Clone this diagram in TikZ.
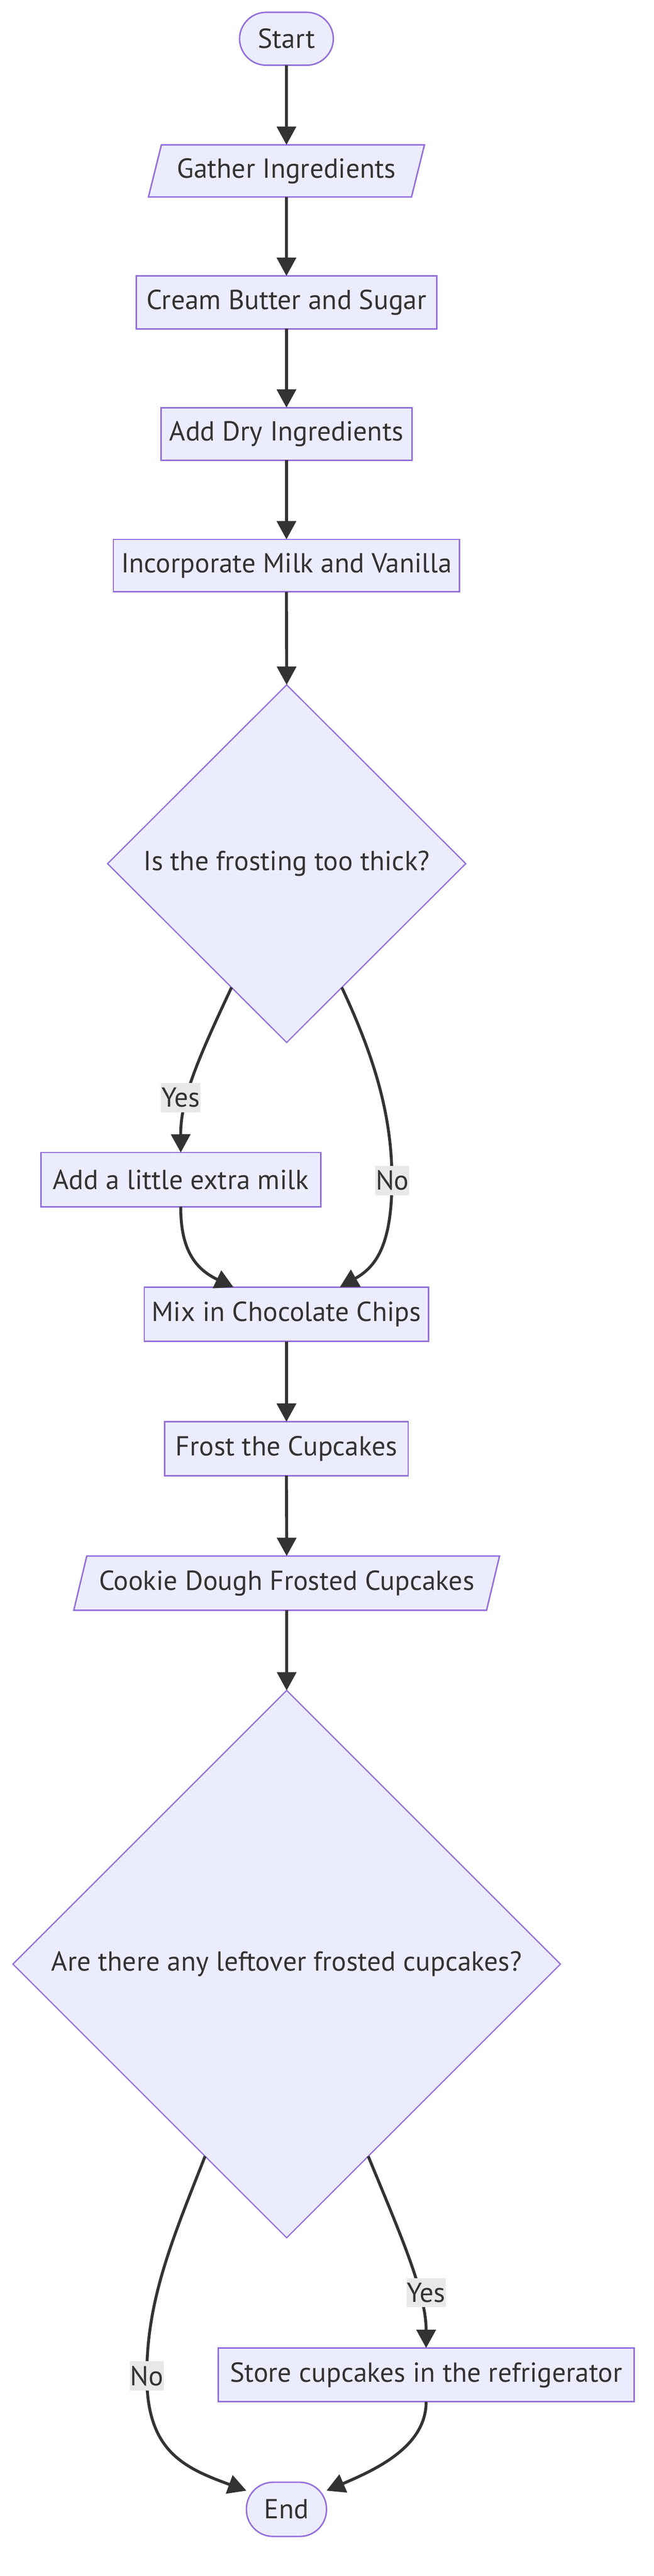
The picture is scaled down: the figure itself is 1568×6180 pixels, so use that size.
\documentclass[tikz,border=0pt]{standalone}
\usepackage{fontspec}
\setmainfont{PT Sans}
\usetikzlibrary{arrows.meta,shapes.geometric}
\definecolor{nodefill}{HTML}{ECECFF}
\definecolor{nodeline}{HTML}{9370DB}
\definecolor{ink}{HTML}{333333}
\definecolor{lblbg}{HTML}{E8E8E8}
\begin{document}
\begin{tikzpicture}[x=1pt,y=-1pt,
  every node/.style={font=\fontsize{66}{79}\selectfont, text=ink},
  box/.style={draw=nodeline, fill=nodefill, line width=3.5pt, rectangle, inner sep=0pt, outer sep=0pt},
  term/.style={box, rounded corners=64pt},
  io/.style={draw=nodeline, fill=nodefill, line width=3.5pt, trapezium, trapezium left angle=63, trapezium right angle=117, trapezium stretches body, inner sep=0pt, outer sep=0pt},
  decision/.style={draw=nodeline, fill=nodefill, line width=3pt, diamond, inner sep=0pt, outer sep=0pt},
  flow/.style={draw=ink, line width=7pt, -{Triangle[length=44pt,width=46pt]}},
  lbl/.style={fill=lblbg, inner xsep=1pt, inner ysep=0pt, minimum height=70pt}
]
\useasboundingbox (0,0) rectangle (1568,6180);
\fill[white] (0,0) rectangle (1568,6180);
% nodes
\node[term, minimum width=225pt, minimum height=127pt] (start) at (687,93) {Start};
\node[io, minimum width=662pt, minimum height=125pt] (gather) at (687,410) {Gather Ingredients};
\node[box, minimum width=720pt, minimum height=127pt] (cream) at (687,725.5) {Cream Butter and Sugar};
\node[box, minimum width=602pt, minimum height=126pt] (dry) at (687,1041) {Add Dry Ingredients};
\node[box, minimum width=830pt, minimum height=126pt] (inc) at (687,1357) {Incorporate Milk and Vanilla};
\node[decision, minimum width=859pt, minimum height=858pt] (d1) at (687.5,2072) {Is the frosting too thick?};
\node[box, minimum width=671pt, minimum height=130pt] (milk) at (433.5,2830) {Add a little extra milk};
\node[box, minimum width=682pt, minimum height=130pt] (mix) at (687,3153) {Mix in Chocolate Chips};
\node[box, minimum width=584pt, minimum height=129pt] (frost) at (687,3475.5) {Frost the Cupcakes};
\node[io, minimum width=1021pt, minimum height=130pt] (cookie) at (687.5,3798) {Cookie Dough Frosted Cupcakes};
\node[decision, minimum width=1313pt, minimum height=1313pt] (d2) at (687.5,4712) {Are there any leftover frosted cupcakes?};
\node[box, minimum width=998pt, minimum height=129pt] (store) at (1022,5697.5) {Store cupcakes in the refrigerator};
\node[term, minimum width=192pt, minimum height=130pt] (end) at (687,6020) {End};
% edges
\draw[flow] (start.south) -- (gather.north);
\draw[flow] (gather.south) -- (cream.north);
\draw[flow] (cream.south) -- (dry.north);
\draw[flow] (dry.south) -- (inc.north);
\draw[flow] (inc.south) -- (d1.north);
\draw[flow] (d1.246) .. controls (470,2550) and (433,2640) .. (milk.north);
\draw[flow] (d1.294) .. controls (900,2540) and (940,2680) .. (940,2830) .. controls (940,2990) and (900,3040) .. ([xshift=128pt]mix.north);
\draw[flow] (milk.south) .. controls (433,3000) and (470,3045) .. ([xshift=-127pt]mix.north);
\draw[flow] (mix.south) -- (frost.north);
\draw[flow] (frost.south) -- (cookie.north);
\draw[flow] (cookie.south) -- (d2.north);
\draw[flow] (d2.247) .. controls (410,5380) and (352,5520) .. (352,5700) .. controls (352,5880) and (440,5920) .. (end.155);
\draw[flow] (d2.293) .. controls (960,5360) and (1022,5500) .. (store.north);
\draw[flow] (store.south) .. controls (1022,5870) and (900,5925) .. (end.25);
% labels
\node[lbl] (yes1) at (433.5,2633) {Yes};
\node[lbl] (no1) at (941,2832) {No};
\node[lbl] (yes2) at (1022,5500) {Yes};
\node[lbl] (no2) at (352,5700) {No};
\end{tikzpicture}
\end{document}
